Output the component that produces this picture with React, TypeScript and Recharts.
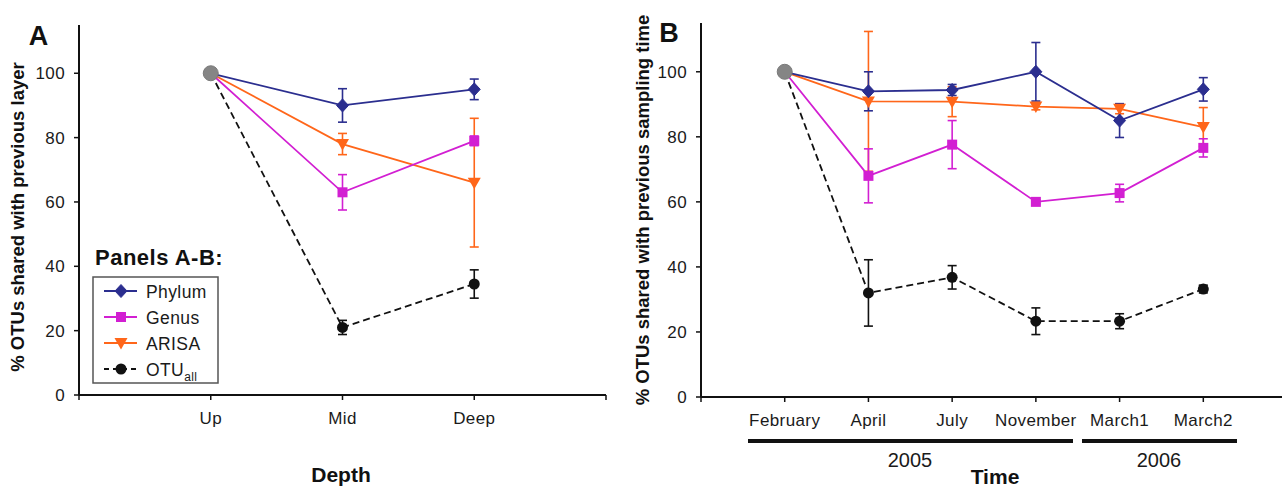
import React from 'react';
import { ComposedChart, Line, XAxis, YAxis, ErrorBar } from 'recharts';

// ---------- Data ----------
const depthLabels = ['Up', 'Mid', 'Deep'];
const phylumA = [100, 90, 95];
const phylumAErr = [0, 5.2, 3.2];
const genusA = [100, 63, 79];
const genusAErr = [0, 5.5, 1.5];
const arisaA = [100, 78, 66];
const arisaAErr = [0, 3.3, 20];
const otuA = [100, 21, 34.5];
const otuAErr = [0, 2.2, 4.4];

const timeLabels = ['February', 'April', 'July', 'November', 'March1', 'March2'];
const phylumB = [100, 94, 94.4, 100, 85, 94.6];
const phylumBErr = [0, 6, 1.7, 9, 5.2, 3.6];
const genusB = [100, 68, 77.6, 60, 62.7, 76.6];
const genusBErr = [0, 8.3, 7.4, 0.6, 2.7, 2.8];
const arisaB = [100, 90.9, 90.8, 89.3, 88.6, 83];
const arisaBErr = [0, 21.5, 4.6, 1, 1.5, 6];
const otuB = [100, 32, 36.8, 23.3, 23.3, 33.2];
const otuBErr = [0, 10.2, 3.6, 4.1, 2.3, 1.2];

const yTicks = [0, 20, 40, 60, 80, 100];
const years = ['2005', '2006'];

// ---------- Styles ----------
const FONT = '"Liberation Sans", Arial, Helvetica, sans-serif';
const C_PHY = '#2b2e8f';
const C_GEN = '#d21fd2';
const C_ARI = '#ff661a';
const C_OTU = '#111111';
const C_ORIGIN = '#858585';

function build(labels: string[], p: number[], pe: number[], g: number[], ge: number[], a: number[], ae: number[], o: number[], oe: number[]) {
  return labels.map((c, i) => ({
    x: i + 1,
    cat: c,
    phylum: p[i], phylumErr: pe[i],
    genus: g[i], genusErr: ge[i],
    arisa: a[i], arisaErr: ae[i],
    otu: o[i], otuErr: oe[i],
    origin: i === 0 ? p[0] : null,
  }));
}

const dataA = build(depthLabels, phylumA, phylumAErr, genusA, genusAErr, arisaA, arisaAErr, otuA, otuAErr);
const dataB = build(timeLabels, phylumB, phylumBErr, genusB, genusBErr, arisaB, arisaBErr, otuB, otuBErr);

type Shape = 'diamond' | 'square' | 'triangle' | 'circle' | 'origin';

function marker(shape: Shape, color: string, cx: number, cy: number, key: string) {
  if (shape === 'diamond') {
    return <polygon key={key} points={`${cx},${cy - 6.5} ${cx + 6},${cy} ${cx},${cy + 6.5} ${cx - 6},${cy}`} fill={color} stroke={color} strokeWidth={1} />;
  }
  if (shape === 'square') {
    return <rect key={key} x={cx - 5} y={cy - 5} width={10} height={10} fill={color} />;
  }
  if (shape === 'triangle') {
    return <polygon key={key} points={`${cx - 6.5},${cy - 5} ${cx + 6.5},${cy - 5} ${cx},${cy + 6.5}`} fill={color} />;
  }
  if (shape === 'origin') {
    return <circle key={key} cx={cx} cy={cy} r={7.5} fill={color} stroke="#7a7a7a" strokeWidth={1} />;
  }
  return <circle key={key} cx={cx} cy={cy} r={5.5} fill={color} />;
}

const makeDot = (shape: Shape, color: string, skipFirst: boolean) => (props: any) => {
  const { cx, cy, index, value } = props;
  const key = `${shape}-${index}`;
  if ((skipFirst && index === 0) || cx == null || cy == null || value == null || isNaN(cy)) return <g key={key} />;
  return marker(shape, color, cx, cy, key);
};

const tickStyle = { fontSize: 17, fill: '#1a1a1a', fontFamily: FONT, letterSpacing: 0.4 };

function Panel({ data, labels, xMax, width, left, marginLeft, marginRight, top, bottom }: any) {
  const xTicks = Array.from({ length: Math.floor(xMax) + 1 }, (_, i) => i);
  return (
    <div style={{ position: 'absolute', left, top: 0 }}>
      <ComposedChart width={width} height={488} data={data} margin={{ top, right: marginRight, left: marginLeft, bottom }}>
        <XAxis
          type="number"
          dataKey="x"
          domain={[0, xMax]}
          ticks={xTicks}
          interval={0}
          allowDataOverflow
          height={30}
          tickFormatter={(v: number) => labels[v - 1] ?? ''}
          axisLine={{ stroke: '#111', strokeWidth: 2 }}
          tickLine={{ stroke: '#111', strokeWidth: 1.5 }}
          tickSize={5}
          tickMargin={12}
          tick={tickStyle}
        />
        <YAxis
          type="number"
          domain={[0, 115]}
          ticks={yTicks}
          interval={0}
          allowDataOverflow
          width={60}
          axisLine={{ stroke: '#111', strokeWidth: 2 }}
          tickLine={{ stroke: '#111', strokeWidth: 1.5 }}
          tickSize={5}
          tickMargin={9}
          tick={tickStyle}
        />
        <Line type="linear" dataKey="otu" stroke={C_OTU} strokeWidth={1.8} strokeDasharray="7 4" dot={makeDot('circle', C_OTU, true)} activeDot={false} isAnimationActive={false}>
          <ErrorBar dataKey="otuErr" width={4.5} stroke={C_OTU} strokeWidth={1.6} direction="y" />
        </Line>
        <Line type="linear" dataKey="arisa" stroke={C_ARI} strokeWidth={1.8} dot={makeDot('triangle', C_ARI, true)} activeDot={false} isAnimationActive={false}>
          <ErrorBar dataKey="arisaErr" width={4.5} stroke={C_ARI} strokeWidth={1.6} direction="y" />
        </Line>
        <Line type="linear" dataKey="genus" stroke={C_GEN} strokeWidth={1.8} dot={makeDot('square', C_GEN, true)} activeDot={false} isAnimationActive={false}>
          <ErrorBar dataKey="genusErr" width={4.5} stroke={C_GEN} strokeWidth={1.6} direction="y" />
        </Line>
        <Line type="linear" dataKey="phylum" stroke={C_PHY} strokeWidth={1.8} dot={makeDot('diamond', C_PHY, true)} activeDot={false} isAnimationActive={false}>
          <ErrorBar dataKey="phylumErr" width={4.5} stroke={C_PHY} strokeWidth={1.6} direction="y" />
        </Line>
        <Line type="linear" dataKey="origin" stroke="none" dot={makeDot('origin', C_ORIGIN, false)} activeDot={false} isAnimationActive={false} />
      </ComposedChart>
    </div>
  );
}

const legendItems = [
  { label: 'Phylum', shape: 'diamond' as Shape, color: C_PHY, dashed: false },
  { label: 'Genus', shape: 'square' as Shape, color: C_GEN, dashed: false },
  { label: 'ARISA', shape: 'triangle' as Shape, color: C_ARI, dashed: false },
  { label: 'OTU', shape: 'circle' as Shape, color: C_OTU, dashed: true },
];

function Overlay() {
  return (
    <svg width={1282} height={488} style={{ position: 'absolute', left: 0, top: 0, pointerEvents: 'none' }} fontFamily={FONT}>
      <text x={38.5} y={45} fontSize={27} fontWeight="bold" textAnchor="middle" fill="#111">A</text>
      <text x={669} y={42} fontSize={27} fontWeight="bold" textAnchor="middle" fill="#111">B</text>
      <text transform="translate(24,217) rotate(-90)" fontSize={18.5} fontWeight="bold" textAnchor="middle" fill="#111">% OTUs shared with previous layer</text>
      <text transform="translate(649,210) rotate(-90)" fontSize={18.5} fontWeight="bold" textAnchor="middle" fill="#111">% OTUs shared with previous sampling time</text>
      <text x={341} y={482} fontSize={21} fontWeight="bold" textAnchor="middle" fill="#111">Depth</text>
      <text x={995} y={484} fontSize={21} fontWeight="bold" textAnchor="middle" fill="#111">Time</text>
      <rect x={748} y={439} width={325} height={4} fill="#111" />
      <rect x={1082} y={439} width={155} height={4} fill="#111" />
      <text x={910} y={467} fontSize={20} textAnchor="middle" fill="#1a1a1a">{years[0]}</text>
      <text x={1159} y={467} fontSize={20} textAnchor="middle" fill="#1a1a1a">{years[1]}</text>
      <text x={95} y={265} fontSize={22} fontWeight="bold" fill="#111" letterSpacing={0.5}>Panels A-B:</text>
      <rect x={93} y={277} width={125} height={106} fill="#fff" stroke="#555" strokeWidth={1.5} />
      {legendItems.map((it, i) => {
        const cy = 291 + i * 26;
        return (
          <g key={it.label}>
            <line x1={104} y1={cy} x2={137} y2={cy} stroke={it.color} strokeWidth={1.8} strokeDasharray={it.dashed ? '5 4' : undefined} />
            {marker(it.shape, it.color, 121, cy, `lg-${i}`)}
            <text x={146} y={cy + 6.5} fontSize={17.5} fill="#1a1a1a" letterSpacing={0.4}>
              {it.label}
              {it.dashed ? <tspan fontSize={12} dy={5}>all</tspan> : null}
            </text>
          </g>
        );
      })}
    </svg>
  );
}

export default function App() {
  return (
    <div style={{ position: 'absolute', left: 0, top: 0, width: 1282, height: 488, background: '#fff', overflow: 'hidden' }}>
      <Panel data={dataA} labels={depthLabels} xMax={4} width={640} left={0} marginLeft={19} marginRight={34} top={25} bottom={63} />
      <Panel data={dataB} labels={timeLabels} xMax={6.94} width={662} left={620} marginLeft={21} marginRight={0} top={23} bottom={61} />
      <Overlay />
    </div>
  );
}
